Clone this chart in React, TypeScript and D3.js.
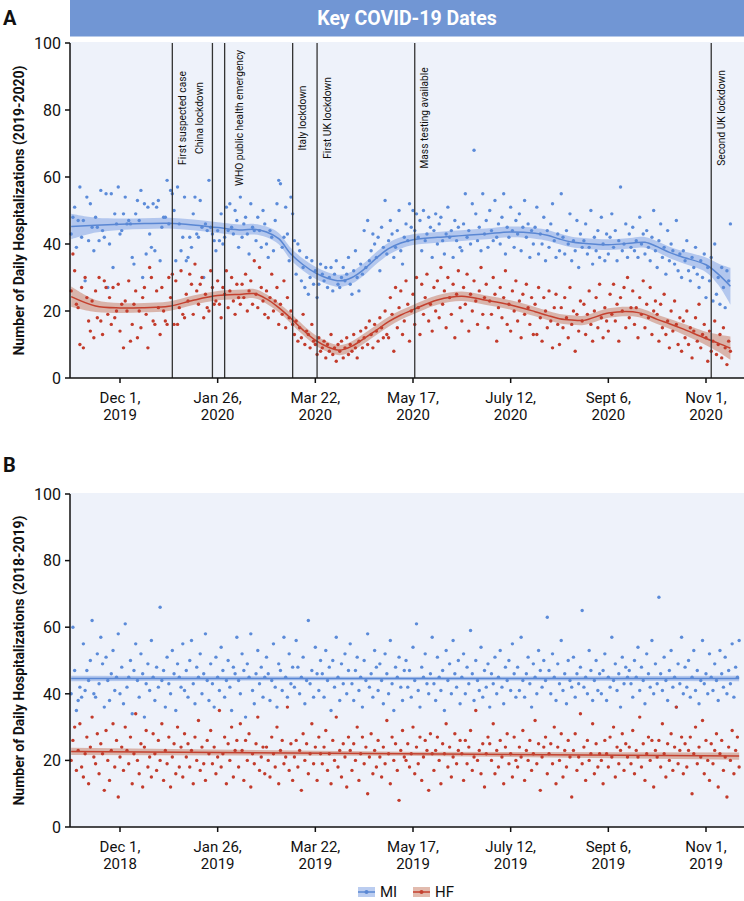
import React from "react";
import * as d3 from "d3";

// ---------- DATA ----------
const xTickDays = [0, 56, 112, 168, 224, 280, 336];
const xTickLabelsA = [["Dec 1,", "2019"], ["Jan 26,", "2020"], ["Mar 22,", "2020"], ["May 17,", "2020"], ["July 12,", "2020"], ["Sept 6,", "2020"], ["Nov 1,", "2020"]];
const xTickLabelsB = [["Dec 1,", "2018"], ["Jan 26,", "2019"], ["Mar 22,", "2019"], ["May 17,", "2019"], ["July 12,", "2019"], ["Sept 6,", "2019"], ["Nov 1,", "2019"]];
const yTicks = [0, 20, 40, 60, 80, 100];

const eventDays = [30, 53, 60, 99, 113, 169, 339];
const eventLabels = ["First suspected case", "China lockdown", "WHO public health emergency", "Italy lockdown", "First UK lockdown", "Mass testing available", "Second UK lockdown"];

const startDay = -28;

// Panel A (2019-2020), daily counts
const miA = [
  43, 48, 51, 39, 47, 57, 42, 47, 29, 54, 41, 52, 45, 38,
  48, 45, 41, 56, 44, 42, 55, 27, 40, 55, 33, 49, 46, 57,
  43, 44, 49, 54, 46, 47, 46, 36, 34, 49, 53, 47, 56, 30,
  52, 37, 51, 43, 39, 52, 38, 51, 53, 35, 45, 48, 48, 59,
  46, 56, 55, 50, 35, 57, 46, 38, 42, 54, 35, 36, 42, 39,
  49, 54, 43, 42, 53, 45, 30, 46, 44, 59, 45, 43, 41, 38,
  44, 41, 49, 40, 42, 51, 44, 52, 45, 43, 50, 47, 39, 54,
  42, 46, 48, 43, 37, 52, 45, 44, 41, 48, 44, 39, 50, 46,
  40, 36, 44, 42, 38, 47, 52, 59, 58, 39, 42, 51, 43, 35,
  54, 49, 41, 31, 40, 38, 29, 33, 27, 36, 25, 30, 35, 28,
  32, 24, 28, 34, 31, 29, 33, 27, 30, 33, 26, 31, 35, 28,
  27, 30, 33, 29, 31, 36, 28, 25, 32, 38, 30, 26, 34, 31,
  44, 33, 47, 35, 38, 43, 40, 36, 42, 32, 45, 39, 53, 37,
  41, 47, 43, 36, 39, 44, 50, 38, 34, 42, 46, 41, 52, 45,
  50, 44, 49, 42, 47, 38, 50, 41, 43, 48, 45, 36, 44, 49,
  40, 46, 48, 41, 37, 43, 51, 42, 44, 36, 47, 41, 45, 39,
  38, 46, 55, 42, 44, 40, 52, 68, 49, 41, 45, 38, 55, 43,
  47, 39, 50, 44, 41, 53, 42, 46, 40, 48, 55, 37, 45, 42,
  51, 44, 39, 47, 43, 49, 38, 45, 53, 42, 46, 36, 44, 40,
  45, 51, 37, 43, 40, 48, 35, 44, 39, 46, 52, 41, 36, 43,
  38, 55, 42, 37, 44, 40, 49, 35, 41, 38, 47, 33, 43, 39,
  41, 46, 37, 39, 50, 34, 42, 38, 44, 36, 48, 40, 35, 43,
  37, 42, 49, 39, 44, 35, 41, 57, 38, 40, 46, 36, 43, 39,
  45, 38, 41, 36, 48, 40, 43, 37, 44, 39, 35, 42, 50, 38,
  33, 41, 46, 36, 39, 31, 44, 35, 40, 38, 34, 47, 32, 37,
  30, 38, 35, 41, 32, 29, 36, 33, 39, 31, 27, 35, 30, 37,
  24, 33, 29, 36, 23, 40, 25, 30, 22, 33, 27, 21, 32, 29, 46,
];
const hfA = [
  26, 37, 32, 22, 21, 10, 27, 9, 30, 24, 17, 14, 23, 12,
  26, 18, 30, 17, 13, 29, 27, 19, 24, 16, 27, 18, 20, 28,
  14, 22, 9, 23, 20, 29, 11, 16, 22, 26, 12, 20, 15, 24,
  27, 19, 9, 33, 30, 17, 16, 26, 21, 13, 27, 20, 17, 16,
  30, 24, 31, 16, 29, 16, 21, 32, 19, 18, 25, 23, 31, 28,
  19, 34, 26, 22, 28, 30, 18, 25, 21, 20, 32, 27, 22, 23,
  29, 22, 18, 27, 25, 32, 21, 26, 30, 23, 19, 28, 24, 22,
  28, 24, 31, 20, 26, 29, 22, 35, 25, 21, 33, 27, 23, 19,
  26, 18, 24, 31, 20, 23, 27, 16, 22, 19, 29, 15, 24, 18,
  20, 16, 13, 17, 11, 15, 12, 19, 10, 14, 13, 9, 16, 11,
  10, 7, 12, 8, 9, 11, 6, 10, 8, 13, 7, 9, 5, 10,
  8, 11, 6, 9, 12, 7, 10, 8, 13, 9, 6, 11, 14, 9,
  12, 15, 10, 17, 13, 9, 16, 14, 11, 18, 15, 12, 20, 13,
  12, 24, 19, 8, 27, 15, 21, 26, 13, 17, 29, 22, 11, 20,
  25, 16, 30, 21, 13, 28, 19, 24, 31, 17, 22, 14, 27, 20,
  29, 18, 33, 22, 26, 15, 30, 24, 19, 28, 12, 25, 32, 21,
  17, 27, 22, 31, 14, 25, 20, 29, 23, 16, 26, 33, 19, 24,
  28, 15, 23, 19, 30, 25, 11, 21, 27, 18, 24, 32, 16, 22,
  14, 26, 20, 29, 17, 23, 12, 25, 19, 28, 21, 16, 24, 13,
  22, 13, 27, 18, 11, 24, 20, 15, 26, 17, 9, 21, 25, 16,
  10, 21, 15, 24, 18, 12, 27, 16, 20, 8, 19, 14, 23, 17,
  22, 13, 19, 26, 16, 11, 20, 24, 15, 28, 18, 12, 21, 17,
  14, 25, 19, 28, 17, 22, 11, 24, 20, 27, 15, 30, 18, 21,
  26, 16, 21, 12, 24, 19, 29, 15, 22, 18, 27, 13, 20, 23,
  19, 11, 22, 15, 25, 13, 17, 9, 20, 14, 23, 16, 10, 18,
  8, 17, 12, 20, 10, 15, 6, 14, 18, 11, 22, 9, 13, 16,
  12, 5, 14, 8, 11, 17, 7, 10, 13, 6, 15, 9, 4, 11, 8,
];

// Smoothed (LOESS) estimates for panel A
const smoothDaysA = [-28, -14, 0, 14, 28, 42, 56, 70, 77, 84, 91, 98, 105, 112, 119, 126, 133, 140, 147, 154, 161, 168, 182, 196, 210, 224, 238, 245, 252, 259, 266, 280, 294, 301, 308, 315, 322, 336, 343, 350];
const miSmoothA = [45.2, 45.6, 45.9, 46.1, 46.2, 45.7, 44.9, 44.2, 44.4, 43.6, 41.6, 37.0, 33.8, 31.4, 29.8, 29.0, 30.0, 32.5, 35.8, 38.6, 40.3, 41.3, 42.0, 42.5, 43.0, 43.6, 43.2, 42.6, 41.5, 40.6, 40.2, 39.8, 40.3, 40.5, 39.2, 37.5, 36.2, 33.8, 31.0, 27.4];
const miBandA = [3.8, 2.2, 1.7, 1.6, 1.6, 1.6, 1.6, 1.6, 1.6, 1.6, 1.7, 1.8, 1.8, 1.8, 1.8, 1.8, 1.8, 1.8, 1.8, 1.8, 1.7, 1.6, 1.6, 1.6, 1.6, 1.6, 1.6, 1.6, 1.6, 1.6, 1.6, 1.6, 1.6, 1.6, 1.6, 1.7, 1.8, 2.2, 3.2, 5.5];
const hfSmoothA = [24.3, 21.5, 20.9, 21.0, 21.4, 23.2, 24.6, 25.0, 25.2, 23.6, 21.0, 17.8, 14.3, 11.3, 9.3, 8.3, 9.5, 11.8, 14.3, 16.8, 18.8, 20.4, 23.3, 24.4, 23.2, 21.8, 19.8, 18.7, 17.7, 17.3, 17.2, 19.4, 19.8, 19.0, 17.5, 16.2, 14.8, 11.8, 10.4, 8.9];
const hfBandA = [3.0, 1.8, 1.5, 1.4, 1.4, 1.4, 1.4, 1.4, 1.4, 1.4, 1.4, 1.5, 1.5, 1.5, 1.5, 1.5, 1.5, 1.5, 1.5, 1.5, 1.4, 1.4, 1.4, 1.4, 1.4, 1.4, 1.4, 1.4, 1.4, 1.4, 1.4, 1.4, 1.4, 1.4, 1.4, 1.5, 1.6, 2.0, 2.6, 3.5];

// Panel B (2018-2019), daily counts
const miB = [
  40, 60, 47, 35, 38, 42, 39, 55, 41, 47, 44, 50, 62, 40, 39, 52,
  43, 57, 49, 36, 51, 44, 38, 46, 53, 41, 45, 58, 40, 48, 37, 61,
  42, 45, 50, 34, 47, 55, 44, 39, 52, 46, 33, 43, 49, 41, 56, 45,
  38, 48, 42, 66, 44, 47, 36, 51, 43, 40, 53, 46, 35, 49, 45, 42,
  55, 41, 47, 39, 50, 56, 43, 37, 48, 45, 52, 40, 46, 58, 44, 38,
  49, 43, 36, 51, 45, 41, 54, 47, 39, 44, 50, 42, 35, 48, 46, 57,
  44, 40, 52, 47, 33, 49, 45, 58, 41, 37, 46, 53, 43, 48, 39, 45,
  51, 46, 38, 44, 55, 42, 36, 49, 47, 41, 57, 45, 39, 52, 43, 48,
  42, 56, 48, 40, 45, 51, 37, 44, 62, 43, 47, 39, 54, 46, 41, 50,
  46, 39, 53, 44, 48, 35, 50, 42, 57, 45, 38, 49, 43, 52, 40, 47,
  55, 43, 38, 47, 51, 41, 45, 36, 50, 44, 58, 42, 46, 39, 53, 48,
  41, 49, 44, 37, 52, 46, 40, 56, 43, 35, 48, 45, 51, 42, 38, 47,
  50, 42, 47, 39, 54, 44, 61, 41, 36, 48, 45, 52, 43, 40, 46, 57,
  43, 38, 51, 45, 41, 47, 35, 53, 44, 49, 40, 56, 46, 42, 50, 37,
  45, 52, 40, 48, 43, 59, 46, 38, 50, 44, 41, 54, 39, 47, 42, 49,
  36, 46, 43, 51, 40, 45, 53, 42, 37, 48, 44, 50, 41, 55, 46, 39,
  48, 41, 57, 44, 39, 46, 51, 43, 36, 49, 45, 40, 53, 47, 42, 50,
  44, 63, 47, 40, 52, 45, 38, 49, 43, 56, 41, 46, 37, 50, 44, 42,
  51, 39, 46, 43, 48, 65, 42, 45, 40, 53, 47, 38, 44, 50, 41, 46,
  40, 47, 52, 38, 45, 42, 57, 44, 49, 41, 46, 36, 51, 43, 48, 45,
  47, 43, 39, 50, 45, 54, 41, 48, 44, 37, 52, 46, 42, 56, 40, 49,
  43, 69, 46, 41, 51, 44, 38, 47, 53, 42, 45, 36, 49, 43, 57, 40,
  48, 42, 50, 39, 45, 53, 41, 47, 37, 44, 56, 43, 46, 40, 52, 45,
  41, 49, 44, 38, 53, 46, 42, 51, 40, 47, 43, 55, 39, 48, 45, 56,
];
const hfB = [
  20, 26, 30, 17, 23, 31, 18, 15, 22, 27, 13, 24, 33, 21, 19, 28,
  16, 25, 22, 11, 29, 20, 14, 23, 31, 18, 26, 9, 21, 24, 17, 30,
  23, 19, 27, 13, 22, 34, 20, 16, 25, 12, 24, 29, 18, 21, 15, 28,
  22, 17, 26, 20, 31, 14, 23, 19, 27, 12, 21, 25, 16, 30, 18, 24,
  15, 28, 21, 25, 18, 23, 13, 27, 20, 32, 17, 24, 19, 14, 26, 22,
  29, 19, 24, 16, 21, 35, 18, 22, 27, 13, 25, 20, 30, 15, 23, 26,
  18, 31, 23, 14, 26, 20, 28, 12, 22, 19, 25, 33, 17, 21, 24, 16,
  24, 20, 15, 27, 22, 18, 30, 13, 23, 26, 19, 21, 36, 17, 25, 14,
  21, 26, 18, 23, 11, 28, 20, 25, 16, 22, 31, 19, 24, 14, 27, 22,
  19, 24, 29, 17, 22, 13, 26, 20, 33, 18, 23, 15, 25, 21, 12, 27,
  23, 17, 25, 20, 30, 14, 22, 27, 19, 24, 10, 21, 28, 16, 23, 18,
  26, 21, 15, 24, 19, 32, 22, 13, 27, 20, 25, 17, 8, 23, 29, 21,
  20, 25, 18, 22, 30, 16, 24, 19, 27, 14, 21, 26, 23, 11, 28, 22,
  17, 23, 27, 20, 13, 25, 22, 31, 18, 24, 15, 21, 28, 19, 23, 26,
  22, 14, 26, 19, 24, 29, 17, 21, 35, 20, 23, 16, 25, 12, 22, 27,
  25, 20, 31, 16, 23, 18, 26, 21, 13, 24, 28, 19, 22, 15, 27, 20,
  18, 24, 21, 29, 14, 23, 20, 26, 17, 22, 32, 19, 25, 11, 21, 24,
  27, 16, 22, 25, 19, 30, 13, 24, 20, 28, 15, 23, 18, 26, 21, 9,
  23, 28, 17, 21, 34, 19, 24, 14, 26, 20, 22, 31, 16, 25, 18, 22,
  20, 13, 26, 22, 18, 27, 21, 30, 15, 24, 19, 23, 28, 17, 25, 21,
  24, 19, 29, 16, 23, 21, 33, 18, 25, 14, 22, 27, 20, 26, 12, 23,
  21, 26, 18, 31, 22, 15, 25, 20, 28, 17, 24, 36, 19, 23, 27, 16,
  25, 18, 23, 27, 10, 22, 30, 19, 24, 21, 32, 16, 26, 20, 14, 25,
  19, 23, 28, 12, 22, 26, 17, 21, 9, 24, 20, 29, 16, 23, 27, 18,
];
const smoothDaysB = [-28, 163, 355];
const miSmoothB = [44.6, 44.6, 44.6];
const miBandB = [0.8, 0.5, 0.8];
const hfSmoothB = [22.7, 22.0, 21.3];
const hfBandB = [1.1, 0.6, 1.1];

const seriesNames = ["MI", "HF"];

// ---------- STYLE ----------
const FONT = "Roboto, 'Liberation Sans', Arial, sans-serif";
const C = {
  miDot: "#5b8bd9",
  miLine: "#5a87d3",
  miBand: "rgba(120,155,225,0.5)",
  hfDot: "#c33b2b",
  hfLine: "#c4412f",
  hfBand: "rgba(190,105,75,0.45)",
  bg: "#eef2fa",
  header: "#7196d4",
};

const X0 = 70, X1 = 744;
const x = d3.scaleLinear().domain([0, 336]).range([120, 706]);

type PanelProps = {
  top: number; bottom: number; yLabel: string;
  tickLabels: string[][]; mi: number[]; hf: number[];
  sDays: number[]; miS: number[]; miBand: number[]; hfS: number[]; hfBand: number[];
  curve: any; events?: boolean;
};

function Panel(p: PanelProps) {
  const y = d3.scaleLinear().domain([0, 100]).range([p.bottom, p.top]);
  const idx = p.sDays.map((_, i) => i);
  const mkArea = (s: number[], b: number[]) =>
    d3.area<number>().x(i => x(p.sDays[i])).y0(i => y(s[i] - b[i])).y1(i => y(s[i] + b[i])).curve(p.curve)(idx) || "";
  const mkLine = (s: number[]) =>
    d3.line<number>().x(i => x(p.sDays[i])).y(i => y(s[i])).curve(p.curve)(idx) || "";
  const labelOffsets = [10, -13, 15, 10, 10.5, 10, 10];
  return (
    <g>
      <rect x={X0} y={p.top - 1} width={X1 - X0} height={p.bottom - p.top + 1} fill={C.bg} />
      <path d={mkArea(p.miS, p.miBand)} fill={C.miBand} />
      <path d={mkArea(p.hfS, p.hfBand)} fill={C.hfBand} />
      {p.mi.map((v, i) => (
        <circle key={"m" + i} cx={x(startDay + i)} cy={y(v)} r={1.7} fill={C.miDot} />
      ))}
      {p.hf.map((v, i) => (
        <circle key={"h" + i} cx={x(startDay + i)} cy={y(v)} r={1.7} fill={C.hfDot} />
      ))}
      <path d={mkLine(p.miS)} fill="none" stroke={C.miLine} strokeWidth={1.5} />
      <path d={mkLine(p.hfS)} fill="none" stroke={C.hfLine} strokeWidth={1.5} />
      {p.events && eventDays.map((d, i) => (
        <g key={"e" + i}>
          <line x1={x(d)} x2={x(d)} y1={p.top} y2={p.bottom} stroke="#333" strokeWidth={1.3} />
          <text transform={`translate(${x(d) + labelOffsets[i]},118) rotate(-90)`} textAnchor="middle"
            dy="0.35em" fontSize={10.2} fontFamily={FONT} fill="#111">{eventLabels[i]}</text>
        </g>
      ))}
      <line x1={X0} x2={X0} y1={p.top} y2={p.bottom} stroke="#111" strokeWidth={1.5} />
      <line x1={X0} x2={X1} y1={p.bottom} y2={p.bottom} stroke="#111" strokeWidth={1.5} />
      {yTicks.map(t => (
        <g key={"y" + t}>
          <line x1={X0 - 5} x2={X0} y1={y(t)} y2={y(t)} stroke="#111" strokeWidth={1.5} />
          <text x={X0 - 9} y={y(t)} dy="0.36em" textAnchor="end" fontSize={16} fontFamily={FONT} fill="#111">{t}</text>
        </g>
      ))}
      {xTickDays.map((d, i) => (
        <g key={"x" + d}>
          <line x1={x(d)} x2={x(d)} y1={p.bottom} y2={p.bottom + 5} stroke="#111" strokeWidth={1.5} />
          <text x={x(d)} y={p.bottom + 25} textAnchor="middle" fontSize={15} fontFamily={FONT} fill="#111">{p.tickLabels[i][0]}</text>
          <text x={x(d)} y={p.bottom + 42} textAnchor="middle" fontSize={15} fontFamily={FONT} fill="#111">{p.tickLabels[i][1]}</text>
        </g>
      ))}
      <text transform={`translate(19,${(p.top + p.bottom) / 2}) rotate(-90)`} textAnchor="middle" dy="0.35em"
        fontSize={14} fontWeight="bold" fontFamily={FONT} fill="#111">{p.yLabel}</text>
    </g>
  );
}

export default function App() {
  return (
    <svg width={744} height={901} style={{ position: "absolute", left: 0, top: 0, background: "#fff" }}>
      <rect x={X0} y={0} width={X1 - X0} height={36.5} fill={C.header} />
      <text x={(X0 + X1) / 2} y={18.5} dy="0.35em" textAnchor="middle" fontSize={19.5} fontWeight="bold" fontFamily={FONT} fill="#fff">Key COVID-19 Dates</text>
      <text x={3} y={25} fontSize={20} fontWeight="bold" fontFamily={FONT} fill="#111">A</text>
      <Panel top={43} bottom={378} yLabel="Number of Daily Hospitalizations (2019-2020)"
        tickLabels={xTickLabelsA} mi={miA} hf={hfA} sDays={smoothDaysA} miS={miSmoothA} miBand={miBandA}
        hfS={hfSmoothA} hfBand={hfBandA} curve={d3.curveCatmullRom.alpha(0.5)} events />
      <text x={3} y={472} fontSize={20} fontWeight="bold" fontFamily={FONT} fill="#111">B</text>
      <Panel top={494} bottom={827} yLabel="Number of Daily Hospitalizations (2018-2019)"
        tickLabels={xTickLabelsB} mi={miB} hf={hfB} sDays={smoothDaysB} miS={miSmoothB} miBand={miBandB}
        hfS={hfSmoothB} hfBand={hfBandB} curve={d3.curveLinear} />
      {seriesNames.map((n, i) => {
        const lx = i === 0 ? 358 : 413;
        const col = i === 0 ? C.miLine : C.hfLine;
        const band = i === 0 ? C.miBand : C.hfBand;
        return (
          <g key={n}>
            <rect x={lx} y={887} width={17} height={10} fill={band} />
            <line x1={lx} x2={lx + 17} y1={892} y2={892} stroke={col} strokeWidth={1.5} />
            <circle cx={lx + 8.5} cy={892} r={2} fill={col} />
            <text x={lx + 22} y={892} dy="0.36em" fontSize={15} fontFamily={FONT} fill="#111">{n}</text>
          </g>
        );
      })}
    </svg>
  );
}
